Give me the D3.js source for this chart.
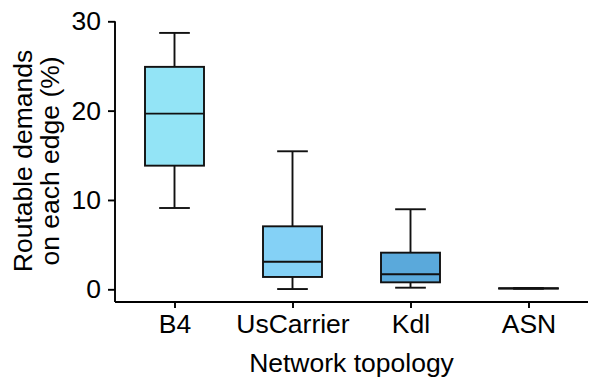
<!DOCTYPE html>
<html>
<head>
<meta charset="utf-8">
<script src="https://cdn.jsdelivr.net/npm/d3@7"></script>
<style>
  body { margin: 0; background: #fff; }
  text { font-family: "Liberation Sans", Arial, sans-serif; fill: #000; }
</style>
</head>
<body>
<svg id="canvas" width="600" height="383"></svg>
<script>
// Canvas size and plot margins
const width = 600, height = 383;
const margin = { top: 21, right: 12, bottom: 81, left: 115 };

// Data (percent)
const categories = ["B4", "UsCarrier", "Kdl", "ASN"];
const whiskerLow = [9.1, 0.03, 0.18, 0.06];
const q1 = [13.84, 1.38, 0.78, 0.08];
const median = [19.66, 3.09, 1.68, 0.1];
const q3 = [24.9, 7.05, 4.1, 0.12];
const whiskerHigh = [28.7, 15.45, 8.96, 0.14];
const fills = ["#93e4f6", "#84d1f6", "#5aa9db", "#3a7fc1"];
const yTicks = [0, 10, 20, 30];

const svg = d3.select("#canvas");

const x = d3.scalePoint()
    .domain(categories)
    .range([margin.left + 0.5, width - margin.right - 0.5])
    .padding(0.5);

const y = d3.scaleLinear()
    .domain([0, 30])
    .range([289.3, 21.3]);

const step = x.step();
const boxW = step * 0.5;
const capW = step * 0.26;
const stroke = "#111";
const sw = 1.9;
const fontSize = 26.5;

// Boxes
const boxes = categories.map((c, i) => ({
    c, lo: whiskerLow[i], q1: q1[i], med: median[i], q3: q3[i], hi: whiskerHigh[i], fill: fills[i]
}));

const g = svg.append("g");
boxes.forEach(d => {
    const cx = x(d.c);
    // whiskers
    g.append("line").attr("x1", cx).attr("x2", cx).attr("y1", y(d.hi)).attr("y2", y(d.q3))
        .attr("stroke", stroke).attr("stroke-width", sw);
    g.append("line").attr("x1", cx).attr("x2", cx).attr("y1", y(d.q1)).attr("y2", y(d.lo))
        .attr("stroke", stroke).attr("stroke-width", sw);
    // caps
    [d.hi, d.lo].forEach(v => {
        g.append("line").attr("x1", cx - capW / 2).attr("x2", cx + capW / 2)
            .attr("y1", y(v)).attr("y2", y(v))
            .attr("stroke", stroke).attr("stroke-width", sw);
    });
    // box
    g.append("rect")
        .attr("x", cx - boxW / 2).attr("width", boxW)
        .attr("y", y(d.q3)).attr("height", Math.max(0, y(d.q1) - y(d.q3)))
        .attr("fill", d.fill).attr("stroke", stroke).attr("stroke-width", sw);
    // median
    g.append("line").attr("x1", cx - boxW / 2).attr("x2", cx + boxW / 2)
        .attr("y1", y(d.med)).attr("y2", y(d.med))
        .attr("stroke", stroke).attr("stroke-width", sw);
});

// Axes
const xAxisY = 302;
const yAxis = svg.append("g")
    .attr("transform", `translate(${margin.left},0)`)
    .call(d3.axisLeft(y).tickValues(yTicks).tickSize(7).tickPadding(7));
yAxis.select(".domain").remove();
yAxis.append("line").attr("x1", 0).attr("x2", 0).attr("y1", 21.3).attr("y2", xAxisY)
    .attr("stroke", "#000").attr("stroke-width", sw);
yAxis.selectAll(".tick line").attr("stroke", "#000").attr("stroke-width", sw);
yAxis.selectAll(".tick text").attr("font-size", fontSize).attr("fill", "#000")
    .attr("font-family", "Liberation Sans, Arial, sans-serif");

const xAxis = svg.append("g")
    .attr("transform", `translate(0,${xAxisY})`)
    .call(d3.axisBottom(x).tickSize(6).tickPadding(6));
xAxis.select(".domain").remove();
xAxis.append("line").attr("x1", margin.left).attr("x2", width - margin.right)
    .attr("y1", 0).attr("y2", 0).attr("stroke", "#000").attr("stroke-width", sw);
xAxis.selectAll(".tick line").attr("stroke", "#000").attr("stroke-width", sw);
xAxis.selectAll(".tick text").attr("font-size", fontSize).attr("fill", "#000")
    .attr("font-family", "Liberation Sans, Arial, sans-serif");

// Axis titles
svg.append("text")
    .attr("x", (margin.left + width - margin.right) / 2)
    .attr("y", 372)
    .attr("text-anchor", "middle")
    .attr("font-size", fontSize)
    .text("Network topology");

const yTitle = svg.append("text")
    .attr("transform", "translate(0,161) rotate(-90)")
    .attr("text-anchor", "middle")
    .attr("font-size", fontSize);
yTitle.append("tspan").attr("x", 0).attr("y", 31.5).text("Routable demands");
yTitle.append("tspan").attr("x", 0).attr("y", 58.5).text("on each edge (%)");
</script>
</body>
</html>
